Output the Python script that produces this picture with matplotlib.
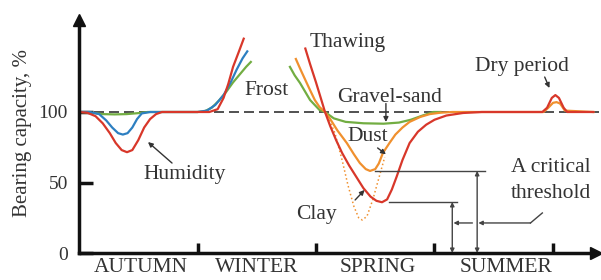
import matplotlib.pyplot as plt
import numpy as np

# x in "seasons" (0 = start of autumn), y in % of bearing capacity
seasons = ['AUTUMN', 'WINTER', 'SPRING', 'SUMMER']
season_pos = [0.52, 1.5, 2.52, 3.6]
yticks = [0, 50, 100]

# autumn humidity dip + frost rise
blue_x = [0, 0.09, 0.17, 0.23, 0.28, 0.33, 0.37, 0.41, 0.45, 0.49, 0.53, 0.6, 1.0, 1.08, 1.15, 1.22, 1.28, 1.33, 1.38, 1.42]
blue_y = [100, 100, 98.5, 94, 89, 85, 84, 85, 89, 95, 99, 100, 100, 101, 105, 112, 121, 130, 138, 143]
red_a_x = [0, 0.07, 0.14, 0.2, 0.26, 0.31, 0.36, 0.405, 0.45, 0.5, 0.55, 0.6, 0.65, 0.7, 1.1, 1.17, 1.22, 1.26, 1.3, 1.35, 1.39]
red_a_y = [100, 99.5, 97, 92, 85, 78, 73, 71.5, 73, 80, 89, 95, 98.5, 100, 100, 102, 110, 120, 132, 143, 152]
green_a_x = [0, 0.1, 0.2, 0.3, 0.4, 0.5, 0.58, 1.0, 1.06, 1.12, 1.18, 1.24, 1.3, 1.36, 1.41, 1.45]
green_a_y = [100, 99.5, 98.5, 98.3, 98.5, 99.2, 100, 100, 100.5, 103, 108, 114, 121, 127, 132, 135.5]

# spring thawing + summer
red_s_x = [1.91, 1.95, 2.0, 2.04, 2.076, 2.12, 2.17, 2.22, 2.28, 2.34, 2.40, 2.46, 2.51, 2.557, 2.6, 2.64, 2.68,
           2.73, 2.79, 2.86, 2.93, 3.0, 3.1, 3.24, 3.4, 3.55, 3.91, 3.95, 3.99, 4.02, 4.05, 4.09, 4.12, 4.34]
red_s_y = [145, 134, 121, 110, 100, 90, 80, 71, 62, 54, 46, 40, 37, 36, 38, 45, 54,
           66, 78, 86, 91, 94.5, 97.5, 99.3, 100, 100, 100, 103, 110, 112, 110, 103, 100, 100]
orange_x = [1.83, 1.87, 1.91, 1.95, 1.99, 2.03, 2.076, 2.12, 2.18, 2.26, 2.32, 2.37, 2.42, 2.456, 2.5, 2.53, 2.565,
            2.62, 2.67, 2.73, 2.79, 2.88, 2.96, 3.05, 3.15, 3.27, 3.92, 3.96, 4.0, 4.03, 4.06, 4.1, 4.34]
orange_y = [137.6, 130, 122.7, 115.5, 108.5, 103.5, 100, 95, 87, 78, 70, 63.8, 59.5, 58.2, 59.5, 63.5, 71,
            78, 84, 89, 93, 96.5, 98.5, 99.5, 100, 100, 100, 103, 106.5, 107, 106, 101, 100]
dot_x = [2.10, 2.16, 2.22, 2.27, 2.32, 2.36, 2.39, 2.43, 2.48, 2.53, 2.58]
dot_y = [97, 85, 66, 48, 33, 25, 23.4, 26, 38, 53, 68]
green_s_x = [1.78, 1.82, 1.865, 1.95, 2.03, 2.076, 2.15, 2.25, 2.4, 2.57, 2.7, 2.8, 2.9, 2.99, 3.05]
green_s_y = [132, 126, 120.6, 108.5, 101.4, 100, 95.5, 93, 92, 91.7, 92.5, 94.5, 97.5, 100, 100]

dust_min = 58.2
clay_min = 36.2

RED = '#d8372a'
ORANGE = '#f0902e'
GREEN = '#72ad42'
BLUE = '#2d7fc1'
TXT = '#333333'

plt.rcParams['font.family'] = ['Liberation Serif', 'DejaVu Serif']

fig = plt.figure(figsize=(6.01, 2.80), dpi=100)
ax = fig.add_axes([79/601, 27/280, 521.4/601, 170*1.41/280])
ax.set_xlim(0, 4.4)
ax.set_ylim(0, 170)

ax.axhline(100, color='#333333', lw=1.2, dashes=(6, 3), zorder=1)

lw = 1.6
ax.plot(green_a_x, green_a_y, color=GREEN, lw=lw)
ax.plot(blue_x, blue_y, color=BLUE, lw=lw)
ax.plot(red_a_x, red_a_y, color=RED, lw=lw)
ax.plot(green_s_x, green_s_y, color=GREEN, lw=lw)
ax.plot(dot_x, dot_y, color=ORANGE, lw=1.1, ls=':')
ax.plot(orange_x, orange_y, color=ORANGE, lw=lw)
ax.plot(red_s_x, red_s_y, color=RED, lw=lw)

# critical thresholds
gc = '#444444'
ax.plot([2.50, 3.43], [dust_min, dust_min], color=gc, lw=1)
ax.plot([2.62, 3.19], [clay_min, clay_min], color=gc, lw=1)
ap = dict(arrowstyle='<|-|>', color=gc, lw=1, mutation_scale=6, shrinkA=0, shrinkB=0)
ax.annotate('', xy=(3.36, dust_min), xytext=(3.36, 0), arrowprops=ap)
ax.annotate('', xy=(3.15, clay_min), xytext=(3.15, 0), arrowprops=ap)
ap1 = dict(arrowstyle='-|>', color=gc, lw=1, mutation_scale=6, shrinkA=0, shrinkB=0)
ax.annotate('', xy=(3.16, 21.3), xytext=(3.32, 21.3), arrowprops=ap1)
ax.annotate('', xy=(3.37, 21.3), xytext=(3.81, 21.3), arrowprops=ap1)
ax.plot([3.81, 3.91], [21.3, 28.4], color=gc, lw=1)

# axes
for s in ['top', 'right']:
    ax.spines[s].set_visible(False)
for s in ['left', 'bottom']:
    ax.spines[s].set_linewidth(2.5)
    ax.spines[s].set_color('#111111')
ax.spines['left'].set_bounds(0, 163)
ax.spines['bottom'].set_bounds(0, 4.32)
ax.plot([0], [165], marker='^', ms=9, color='#111111', clip_on=False)
ax.plot([4.36], [0], marker='>', ms=9, color='#111111', clip_on=False)

ax.set_xticks([1, 2, 3, 4])
ax.set_xticklabels([])
ax.tick_params(axis='x', direction='in', length=7, width=2.5, color='#111111')
ax.set_yticks(yticks)
ax.set_yticklabels([str(v) for v in yticks], fontsize=14, color=TXT)
ax.tick_params(axis='y', direction='in', length=10, width=2.5, color='#111111', pad=8)
ax.set_ylabel('Bearing capacity, %', fontsize=15, color=TXT, labelpad=5)

for name, xp in zip(seasons, season_pos):
    ax.text(xp, -10, name, ha='center', va='center', fontsize=15.5, color=TXT, clip_on=False)

fs = 15.5
ax.text(2.27, 149, 'Thawing', ha='center', va='center', fontsize=fs, color=TXT)
ax.text(2.625, 110.6, 'Gravel-sand', ha='center', va='center', fontsize=fs, color=TXT)
ax.text(2.44, 82.3, 'Dust', ha='center', va='center', fontsize=fs, color=TXT)
ax.text(2.0, 27, 'Clay', ha='center', va='center', fontsize=fs, color=TXT)
ax.text(1.58, 115, 'Frost', ha='center', va='center', fontsize=fs, color=TXT)
ax.text(0.895, 56, 'Humidity', ha='center', va='center', fontsize=fs, color=TXT)
ax.text(3.74, 132, 'Dry period', ha='center', va='center', fontsize=fs, color=TXT)
ax.text(3.98, 60.3, 'A critical', ha='center', va='center', fontsize=fs, color=TXT)
ax.text(3.98, 42.5, 'threshold', ha='center', va='center', fontsize=fs, color=TXT)

ap2 = dict(arrowstyle='-|>', color=TXT, lw=1, mutation_scale=7, shrinkA=0, shrinkB=0)
ax.annotate('', xy=(0.582, 78.7), xytext=(0.785, 63.8), arrowprops=ap2)
ax.annotate('', xy=(2.59, 92.9), xytext=(2.59, 106), arrowprops=ap2)
ax.annotate('', xy=(2.59, 70), xytext=(2.52, 74.5), arrowprops=ap2)
ax.annotate('', xy=(2.41, 44.7), xytext=(2.33, 37.6), arrowprops=ap2)
ax.annotate('', xy=(3.97, 117), xytext=(3.93, 124.8), arrowprops=ap2)

fig.savefig('out.png', dpi=100)
